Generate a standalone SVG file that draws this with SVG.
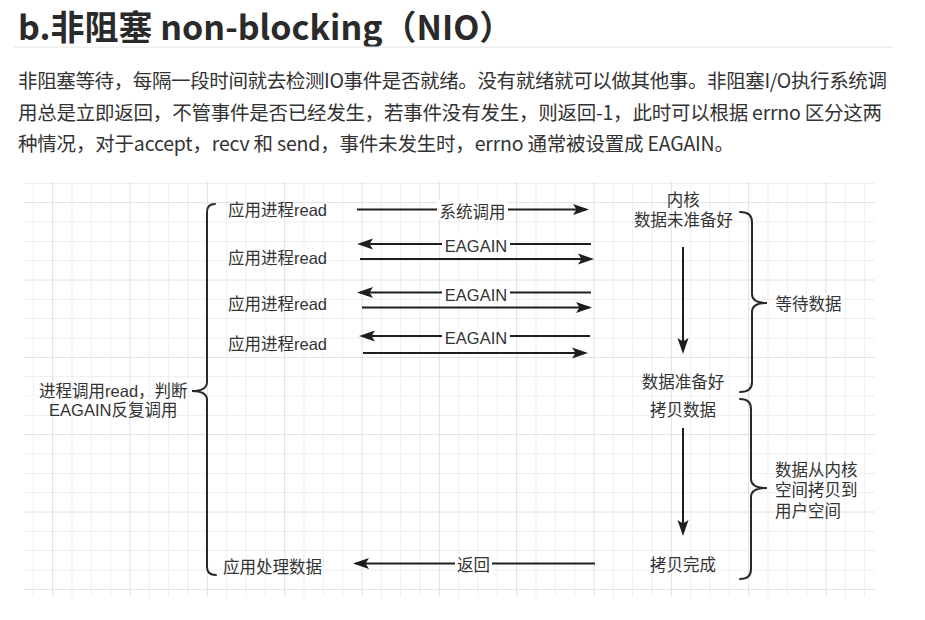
<svg xmlns="http://www.w3.org/2000/svg" width="925" height="620" viewBox="0 0 925 620">
<defs>
<style>
.t{font-family:"Liberation Sans","Noto Sans CJK SC",sans-serif;font-size:16.5px;fill:#333}
.c{text-anchor:middle}
.p{font-family:"Noto Sans CJK SC",sans-serif;font-size:19.5px;fill:#333}
.h{font-family:"Noto Sans CJK SC",sans-serif;font-size:34px;font-weight:700;fill:#2a2a2a}
.ln{stroke:#1e1e1e;stroke-width:2;fill:none}
.br{stroke:#2a2a2a;stroke-width:2;fill:none;stroke-linecap:round}
.bg{fill:#fff}
.gmin{stroke:#efefef;stroke-width:1;fill:none}
.gmaj{stroke:#e0e0e0;stroke-width:1;fill:none}
</style>
<marker id="ah" markerUnits="userSpaceOnUse" markerWidth="17" markerHeight="12" viewBox="0 0 17 12" refX="13" refY="6" orient="auto"><path d="M0,0.5 L16,6 L0,11.5 L3.5,6 Z" fill="#1e1e1e"/></marker>
</defs>
<rect width="925" height="620" fill="#fff"/>
<g id="header">
<text class="h" x="18" y="40">b.非阻塞 non-blocking（NIO）</text>
<rect x="14" y="46.5" width="879" height="1.5" fill="#eeeeee"/>
<text class="p" x="18" y="88" textLength="869" lengthAdjust="spacing">非阻塞等待，每隔一段时间就去检测IO事件是否就绪。没有就绪就可以做其他事。非阻塞I/O执行系统调</text>
<text class="p" x="18" y="120" textLength="864" lengthAdjust="spacing">用总是立即返回，不管事件是否已经发生，若事件没有发生，则返回-1，此时可以根据 errno 区分这两</text>
<text class="p" x="18" y="151" textLength="716" lengthAdjust="spacing">种情况，对于accept，recv 和 send，事件未发生时，errno 通常被设置成 EAGAIN。</text>
</g>
<g id="grid">
<path class="gmin" d="M33.33,182V597M72,182V597M91.33,182V597M110.67,182V597M149.33,182V597M168.67,182V597M188,182V597M226.67,182V597M246,182V597M265.33,182V597M304,182V597M323.33,182V597M342.67,182V597M381.33,182V597M400.67,182V597M420,182V597M458.67,182V597M478,182V597M497.33,182V597M536,182V597M555.33,182V597M574.67,182V597M613.33,182V597M632.67,182V597M652,182V597M690.67,182V597M710,182V597M729.33,182V597M768,182V597M787.33,182V597M806.67,182V597M845.33,182V597M864.67,182V597M24,183.33H875M24,222H875M24,241.33H875M24,260.67H875M24,299.33H875M24,318.67H875M24,338H875M24,376.67H875M24,396H875M24,415.33H875M24,454H875M24,473.33H875M24,492.67H875M24,531.33H875M24,550.67H875M24,570H875"/>
<path class="gmaj" d="M52.67,182V597M130,182V597M207.33,182V597M284.67,182V597M362,182V597M439.33,182V597M516.67,182V597M594,182V597M671.33,182V597M748.67,182V597M826,182V597M24,202.67H875M24,280H875M24,357.33H875M24,434.67H875M24,512H875M24,589.33H875"/>
</g>
<g id="connectors">
<path class="ln" d="M357,209.5H586" marker-end="url(#ah)"/>
<path class="ln" d="M591,244H360" marker-end="url(#ah)"/>
<path class="ln" d="M360,259H591" marker-end="url(#ah)"/>
<path class="ln" d="M591,292.5H360" marker-end="url(#ah)"/>
<path class="ln" d="M362,307.5H589" marker-end="url(#ah)"/>
<path class="ln" d="M590,336H362" marker-end="url(#ah)"/>
<path class="ln" d="M363,353H585" marker-end="url(#ah)"/>
<path class="ln" d="M683,247V351" marker-end="url(#ah)"/>
<path class="ln" d="M683,428V533" marker-end="url(#ah)"/>
<path class="ln" d="M595,563.5H356" marker-end="url(#ah)"/>
<rect class="bg" x="437" y="200" width="71" height="19"/>
<text class="t c" x="472.5" y="218">系统调用</text>
<rect class="bg" x="442" y="235" width="68" height="18"/>
<text class="t c" x="476" y="252">EAGAIN</text>
<rect class="bg" x="442" y="283.5" width="68" height="18"/>
<text class="t c" x="476" y="300.5">EAGAIN</text>
<rect class="bg" x="442" y="327" width="68" height="18"/>
<text class="t c" x="476" y="344">EAGAIN</text>
<rect class="bg" x="455" y="554.5" width="37" height="18"/>
<text class="t c" x="473.5" y="571">返回</text>
<path class="br" d="M215,204 Q207,204 207,212 V382 Q207,391 192,391 Q207,391 207,400 V567 Q207,575 216,575"/>
<path class="br" d="M740,212 Q752,212 752,222 V294 Q752,303 767,303 Q752,303 752,312 V382 Q752,392 740,392"/>
<path class="br" d="M740,399 Q751,399 751,409 V479 Q751,488 767,488 Q751,488 751,497 V569 Q751,579 740,579"/>
</g>
<g id="read1"><text class="t" x="228" y="215.5">应用进程read</text></g>
<g id="read2"><text class="t" x="228" y="263.5">应用进程read</text></g>
<g id="read3"><text class="t" x="228" y="309.5">应用进程read</text></g>
<g id="read4"><text class="t" x="228" y="350">应用进程read</text></g>
<g id="process"><text class="t" x="223" y="572.5">应用处理数据</text></g>
<g id="loop"><text class="t c" x="113.3" y="396.5">进程调用read，判断</text><text class="t c" x="113.3" y="415.5">EAGAIN反复调用</text></g>
<g id="kernel"><text class="t c" x="683.3" y="206">内核</text><text class="t c" x="683.5" y="225.5">数据未准备好</text></g>
<g id="ready"><text class="t c" x="683" y="388">数据准备好</text></g>
<g id="copy"><text class="t c" x="683" y="415.5">拷贝数据</text></g>
<g id="copied"><text class="t c" x="683" y="571">拷贝完成</text></g>
<g id="wait"><text class="t" x="775.5" y="310">等待数据</text></g>
<g id="copyphase"><text class="t" x="775" y="475.5">数据从内核</text><text class="t" x="775" y="496">空间拷贝到</text><text class="t" x="775" y="516.5">用户空间</text></g>
</svg>
